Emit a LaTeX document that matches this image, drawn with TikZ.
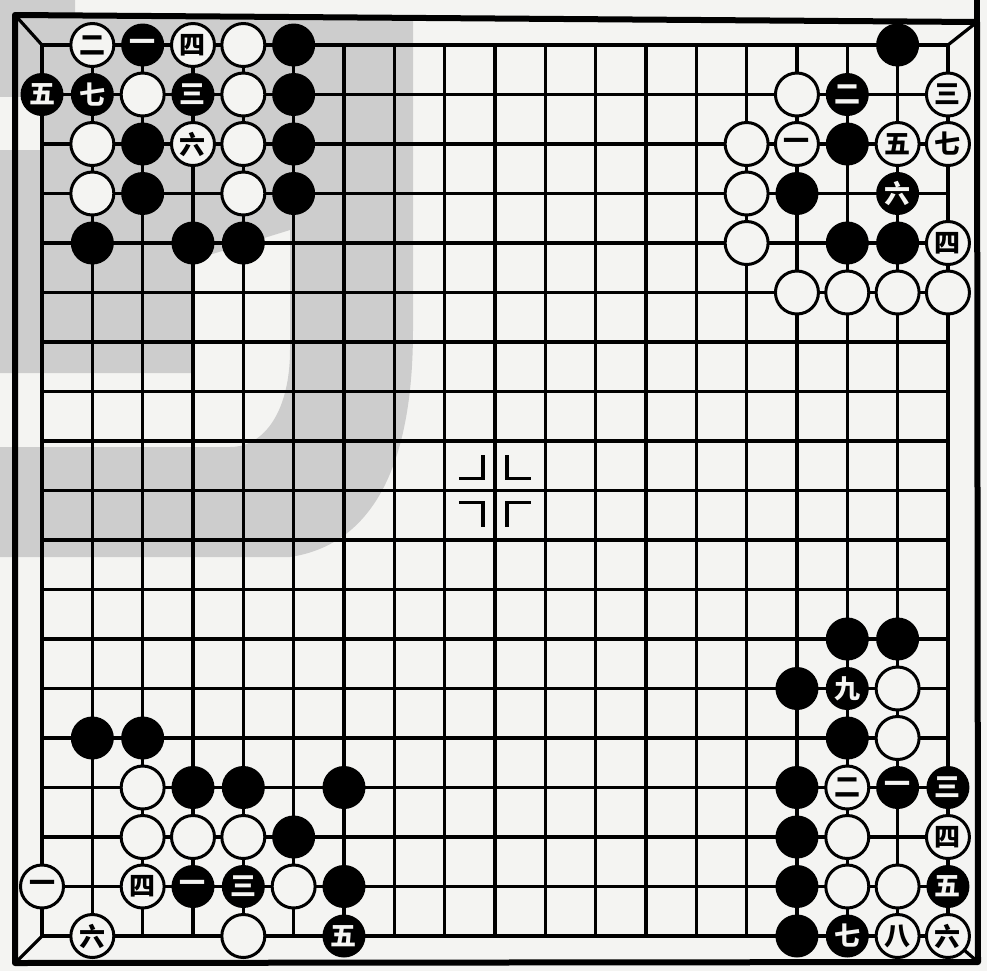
\documentclass[tikz,border=0pt]{standalone}
\usepackage{fontspec}
\newfontfamily\cjk{Noto Sans CJK SC}
\usepackage{tikz}
\definecolor{paper}{RGB}{244,244,242}
\definecolor{stamp}{RGB}{205,205,205}

\begin{document}
\begin{tikzpicture}[x=0.5pt, y=-0.5pt,
  gridline/.style={line width=1.6pt},
  stone/.style={circle, minimum size=21.5pt, inner sep=0pt,
    font=\cjk\bfseries\fontsize{13}{13}\selectfont},
  bstone/.style={stone, fill=black, text=paper},
  wstone/.style={stone, draw=black, line width=1.5pt, fill=paper, text=black}]
  % Paper and the grey stamp showing through
  \fill[paper] (0,0) rectangle (987,971);
  \useasboundingbox (0,0) rectangle (987,971);
  \fill[stamp] (0,0) -- (75,0) -- (75,15) -- (413,15) -- (413,330)
    .. controls (413,470) and (370,545) .. (290,557) -- (0,557) -- (0,447)
    -- (230,447) .. controls (265,447) and (290,410) .. (290,350)
    -- (290,230) -- (193,260) -- (193,373) -- (0,373) -- cycle;
  \fill[paper] (0,97) rectangle (40,150);

  % Outer frame
  \coordinate (ctl) at (15,15);
  \coordinate (ctr) at (977,22);
  \coordinate (cbr) at (978,962);
  \coordinate (cbl) at (15,963);
  \draw[line width=3pt, line join=round] (ctl) -- (ctr) -- (cbr) -- (cbl) -- cycle;
  \draw[line width=3pt] (977,0) -- (ctr);

  % Board points
  \foreach \i in {0,...,18}
    \foreach \j in {0,...,18}
      \coordinate (p\i-\j) at ({42+50.33*\i},{45+49.5*\j});

  % Grid lines
  \foreach \i in {0,...,18} {
    \draw[gridline] (p\i-0) -- (p\i-18);
    \draw[gridline] (p0-\i) -- (p18-\i);
  }

  % Corner ties to the frame
  \draw[gridline] (ctl) -- (p0-0);
  \draw[gridline] (ctr) -- (p18-0);
  \draw[gridline] (cbr) -- (p18-18);
  \draw[gridline] (cbl) -- (p0-18);

  % Centre point
  \draw[gridline] ([shift={(-36,-12)}]p9-9) -- ([shift={(-12,-12)}]p9-9) -- ([shift={(-12,-36)}]p9-9);
  \draw[gridline] ([shift={(36,-12)}]p9-9) -- ([shift={(12,-12)}]p9-9) -- ([shift={(12,-36)}]p9-9);
  \draw[gridline] ([shift={(-36,12)}]p9-9) -- ([shift={(-12,12)}]p9-9) -- ([shift={(-12,36)}]p9-9);
  \draw[gridline] ([shift={(36,12)}]p9-9) -- ([shift={(12,12)}]p9-9) -- ([shift={(12,36)}]p9-9);

  % Black stones
  \foreach \i/\j in {5/0, 5/1, 2/2, 5/2, 2/3, 5/3, 1/4, 3/4, 4/4,
      17/0, 16/2, 15/3, 16/4, 17/4,
      1/14, 2/14, 3/15, 4/15, 6/15, 5/16, 6/17,
      16/12, 17/12, 15/13, 16/14, 15/15, 15/16, 15/17, 15/18}
    \node[bstone] (b\i-\j) at (p\i-\j) {};

  % White stones
  \foreach \i/\j in {4/0, 2/1, 4/1, 1/2, 4/2, 1/3, 4/3,
      15/1, 14/2, 14/3, 14/4, 15/5, 16/5, 17/5, 18/5,
      2/15, 2/16, 3/16, 4/16, 5/17, 4/18,
      17/13, 17/14, 16/16, 16/17, 17/17}
    \node[wstone] (w\i-\j) at (p\i-\j) {};

  % Numbered moves, upper left
  \node[wstone] (w1-0) at (p1-0) {二};
  \node[bstone] (b2-0) at (p2-0) {一};
  \node[wstone] (w3-0) at (p3-0) {四};
  \node[bstone] (b0-1) at (p0-1) {五};
  \node[bstone] (b1-1) at (p1-1) {七};
  \node[bstone] (b3-1) at (p3-1) {三};
  \node[wstone] (w3-2) at (p3-2) {六};

  % Numbered moves, upper right
  \node[bstone] (b16-1) at (p16-1) {二};
  \node[wstone] (w18-1) at (p18-1) {三};
  \node[wstone] (w15-2) at (p15-2) {一};
  \node[wstone] (w17-2) at (p17-2) {五};
  \node[wstone] (w18-2) at (p18-2) {七};
  \node[bstone] (b17-3) at (p17-3) {六};
  \node[wstone] (w18-4) at (p18-4) {四};

  % Numbered moves, lower left
  \node[wstone] (w0-17) at (p0-17) {一};
  \node[wstone] (w2-17) at (p2-17) {四};
  \node[bstone] (b3-17) at (p3-17) {一};
  \node[bstone] (b4-17) at (p4-17) {三};
  \node[wstone] (w1-18) at (p1-18) {六};
  \node[bstone] (b6-18) at (p6-18) {五};

  % Numbered moves, lower right
  \node[bstone] (b16-13) at (p16-13) {九};
  \node[wstone] (w16-15) at (p16-15) {二};
  \node[bstone] (b17-15) at (p17-15) {一};
  \node[bstone] (b18-15) at (p18-15) {三};
  \node[wstone] (w18-16) at (p18-16) {四};
  \node[bstone] (b18-17) at (p18-17) {五};
  \node[bstone] (b16-18) at (p16-18) {七};
  \node[wstone] (w17-18) at (p17-18) {八};
  \node[wstone] (w18-18) at (p18-18) {六};
\end{tikzpicture}
\end{document}
